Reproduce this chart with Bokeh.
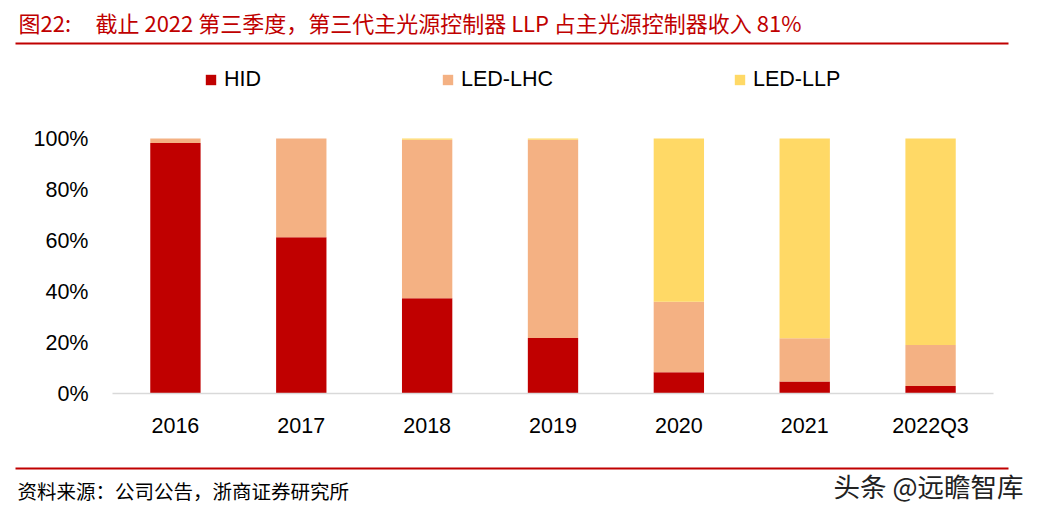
from bokeh.plotting import figure
from bokeh.layouts import column, row
from bokeh.models import (FactorRange, Range1d, FixedTicker, NumeralTickFormatter,
                          Label, BoxAnnotation, Legend, LegendItem)
from bokeh.embed import file_html
from bokeh.resources import INLINE

# ---- data ----
years = ["2016", "2017", "2018", "2019", "2020", "2021", "2022Q3"]
hid = [0.982, 0.613, 0.374, 0.218, 0.083, 0.047, 0.029]
lhc = [0.018, 0.387, 0.621, 0.777, 0.277, 0.170, 0.161]
llp = [0.000, 0.000, 0.005, 0.005, 0.640, 0.783, 0.810]
series = ["HID", "LED-LHC", "LED-LLP"]
colors = ["#C00000", "#F4B183", "#FFD966"]
y_ticks = [0, 0.2, 0.4, 0.6, 0.8, 1.0]
title_prefix = "图22:"
title_text = "截止 2022 第三季度，第三代主光源控制器 LLP 占主光源控制器收入 81%"
source_text = "资料来源：公司公告，浙商证券研究所"
watermark = "头条 @远瞻智库"

W = 1040
TOP_H, MAIN_H, BOT_H = 50, 410, 53
CJK = "Noto Sans CJK SC"
FONT = "Liberation Sans"
RED = "#C00000"


def blank_fig(h, y0):
    f = figure(width=W, height=h, x_range=Range1d(0, W), y_range=Range1d(y0 + h, y0),
               output_backend="svg", toolbar_location=None, min_border=0,
               min_border_left=0, min_border_right=0, min_border_top=0,
               min_border_bottom=0, x_axis_type=None, y_axis_type=None)
    f.outline_line_color = None
    f.xgrid.grid_line_color = None
    f.ygrid.grid_line_color = None
    f.border_fill_color = "white"
    return f

# ---- top: title + rule ----
top = blank_fig(TOP_H, 0)
top.add_layout(Label(x=18, y=21, text=title_prefix, text_font=CJK,
                     text_font_size="22px", text_color=RED,
                     text_baseline="middle", text_align="left"))
top.add_layout(Label(x=95, y=21, text=title_text, text_font=CJK,
                     text_font_size="22px", text_color=RED,
                     text_baseline="middle", text_align="left"))
top.add_layout(BoxAnnotation(left=15, right=1008, top=42, bottom=44,
                             fill_color=RED, fill_alpha=1, line_color=None))

# ---- main chart ----
FL, FR = 112, 993
frame_bottom = 393 - TOP_H    # axis line position in main figure
px_per_unit = 393 - 138       # 0% -> 393, 100% -> 138 on the page

p = figure(width=W, height=MAIN_H, x_range=FactorRange(factors=years, range_padding=0),
           y_range=Range1d(0, frame_bottom / px_per_unit), output_backend="svg",
           toolbar_location=None, min_border_left=FL, min_border_right=W - FR,
           min_border_top=0, min_border_bottom=MAIN_H - frame_bottom)
p.outline_line_color = None
p.xgrid.grid_line_color = None
p.ygrid.grid_line_color = None
p.border_fill_color = "white"

data = {"years": years, "HID": hid, "LED-LHC": lhc, "LED-LLP": llp}
rs = p.vbar_stack(series, x="years", width=0.4, source=data, color=colors,
                  line_color=None)

p.yaxis.ticker = FixedTicker(ticks=y_ticks)
p.yaxis.formatter = NumeralTickFormatter(format="0%")
p.yaxis.axis_line_color = None
p.yaxis.major_tick_line_color = None
p.yaxis.minor_tick_line_color = None
p.yaxis.major_label_standoff = 18
p.yaxis.major_label_text_font = FONT
p.yaxis.major_label_text_font_size = "21.5px"
p.yaxis.major_label_text_color = "black"

p.xaxis.axis_line_color = "#D9D9D9"
p.xaxis.axis_line_width = 1.5
p.xaxis.major_tick_line_color = None
p.xaxis.minor_tick_line_color = None
p.xaxis.major_label_standoff = 14
p.xaxis.major_label_text_font = FONT
p.xaxis.major_label_text_font_size = "21.5px"
p.xaxis.major_label_text_color = "black"

legend = Legend(items=[LegendItem(label=s, renderers=[r]) for s, r in zip(series, rs)],
                orientation="horizontal", location=(204 - FL, frame_bottom - (92 - TOP_H)),
                glyph_width=13, glyph_height=13, label_height=13,
                label_standoff=7, spacing=180, padding=0, margin=0,
                border_line_color=None, background_fill_alpha=0,
                label_text_font=FONT, label_text_font_size="21.5px",
                label_text_color="black")
p.add_layout(legend)

# ---- bottom: rule + source + watermark ----
BOT_Y0 = TOP_H + MAIN_H
bot = blank_fig(BOT_H, BOT_Y0)
bot.add_layout(BoxAnnotation(left=15, right=1008, top=467, bottom=469,
                             fill_color=RED, fill_alpha=1, line_color=None))
bot.add_layout(Label(x=17, y=490, text=source_text, text_font=CJK,
                     text_font_size="19.5px", text_color="black",
                     text_baseline="middle", text_align="left"))
bot.add_layout(Label(x=833, y=485, text=watermark, text_font=CJK,
                     text_font_size="26.5px", text_color="#222222",
                     text_baseline="middle", text_align="left"))

layout = column(row(top), p, row(bot), spacing=0)
open("out.html", "w").write(file_html(layout, INLINE))
